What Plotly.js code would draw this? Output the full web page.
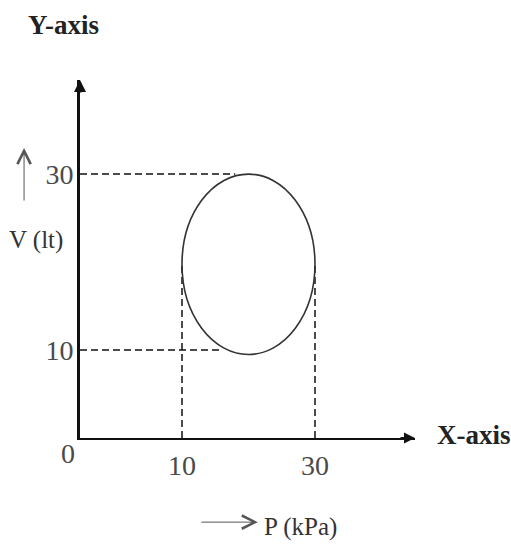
<!DOCTYPE html>
<html>
<head>
<meta charset="utf-8">
<script src="https://cdn.plot.ly/plotly-3.0.1.min.js"></script>
<style>
  html, body { margin: 0; padding: 0; background: #fff; }
  #pv-cycle { width: 511px; height: 548px; }
</style>
</head>
<body>
<div id="pv-cycle"></div>
<script>
// values (P in kPa, V in litres)
var P_TICKS = [10, 30];
var V_TICKS = [10, 30];
var CYCLE_P = [10, 30];        // left / right edge of the cycle
var CYCLE_V = [9.5, 30];       // bottom / top edge of the cycle
var CYCLE_MID_V = 19.75;       // height where the cycle is widest
var GUIDE_END_P = [16, 18];    // where the V = 10 / V = 30 guides meet the curve

var P_RANGE = [-5.34, 45.04];  // the sketch is not drawn to scale along P
var V_RANGE = [0, 40.7];

var SERIF = '"Liberation Serif", "Times New Roman", serif';
var TICK_FONT = { family: SERIF, size: 28, color: '#4a4a4a' };
var DASH = { color: '#111', width: 1.5, dash: '7px,4px' };

function guide(x0, y0, x1, y1) {
    return { type: 'line', xref: 'x', yref: 'y', x0: x0, y0: y0, x1: x1, y1: y1, line: DASH };
}

function label(x, y, text, font) {
    return { xref: 'paper', yref: 'paper', x: x, y: y, text: text, showarrow: false,
             xanchor: 'center', yanchor: 'middle', font: font };
}

function arrow(x, y, ax, ay, head, size, width, color) {
    return { xref: 'paper', yref: 'paper', x: x, y: y, ax: ax, ay: ay, text: '',
             showarrow: true, arrowhead: head, arrowsize: size, arrowwidth: width,
             arrowcolor: color };
}

var shapes = [
    // horizontal guides from the V axis
    guide(P_RANGE[0], V_TICKS[0], GUIDE_END_P[0], V_TICKS[0]),
    guide(P_RANGE[0], V_TICKS[1], GUIDE_END_P[1], V_TICKS[1]),
    // vertical guides from the P axis
    guide(P_TICKS[0], 0, P_TICKS[0], CYCLE_MID_V),
    guide(P_TICKS[1], 0, P_TICKS[1], CYCLE_MID_V),
    // the cycle itself
    { type: 'circle', xref: 'x', yref: 'y',
      x0: CYCLE_P[0], x1: CYCLE_P[1], y0: CYCLE_V[0], y1: CYCLE_V[1],
      line: { color: '#333', width: 1.6 } }
];

var annotations = [
    // arrow heads on the axes
    arrow(0, 1, 0, 14, 2, 0.8, 3, '#111'),
    arrow(1, 0, -16, 0, 2, 1.1, 2, '#111'),
    // origin label
    { xref: 'paper', yref: 'y', x: 0, y: 0, text: '0', showarrow: false,
      xanchor: 'right', yanchor: 'top', xshift: -3, yshift: 2, font: TICK_FONT },
    // axis names
    label(-0.049, 1.154, '<b>Y-axis</b>', { family: SERIF, size: 27, color: '#222' }),
    label(1.176, 0.008, '<b>X-axis</b>', { family: SERIF, size: 27, color: '#222' }),
    label(-0.131, 0.553, 'V (lt)', { family: SERIF, size: 25, color: '#333' }),
    label(0.657, -0.249, 'P (kPa)', { family: SERIF, size: 25, color: '#333' }),
    // direction arrows next to the quantity names
    arrow(-0.167, 0.81, 0, 54, 5, 2.6, 1, '#555'),
    arrow(0.531, -0.235, -58, 0, 5, 2.6, 1, '#555')
];

var layout = {
    width: 511,
    height: 548,
    margin: { l: 80, r: 96, t: 80, b: 110, pad: 0 },
    showlegend: false,
    paper_bgcolor: '#fff',
    plot_bgcolor: '#fff',
    xaxis: {
        range: P_RANGE,
        showgrid: false, zeroline: false,
        showline: true, linewidth: 2, linecolor: '#111',
        tickvals: P_TICKS, ticktext: P_TICKS.map(String),
        ticks: '', ticklabelstandoff: 1, tickfont: TICK_FONT,
        fixedrange: true
    },
    yaxis: {
        range: V_RANGE,
        showgrid: false, zeroline: false,
        showline: true, linewidth: 3, linecolor: '#111',
        tickvals: V_TICKS, ticktext: V_TICKS.map(String),
        ticks: '', ticklabelstandoff: -2, tickfont: TICK_FONT,
        fixedrange: true
    },
    shapes: shapes,
    annotations: annotations
};

Plotly.newPlot('pv-cycle', [{ x: [], y: [], type: 'scatter', mode: 'lines', hoverinfo: 'skip' }],
    layout, { displayModeBar: false, staticPlot: true });
</script>
</body>
</html>
